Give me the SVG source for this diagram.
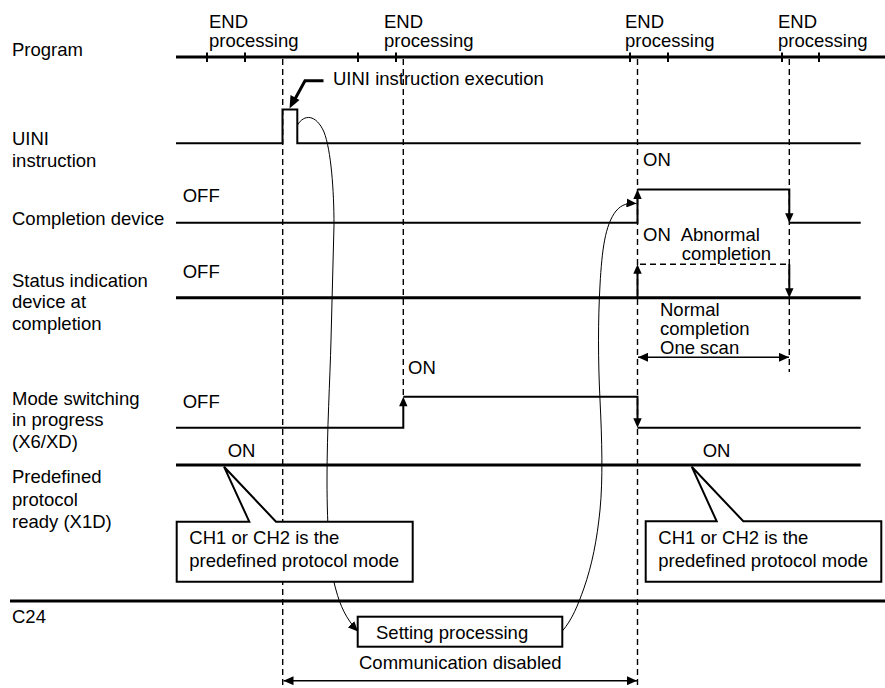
<svg xmlns="http://www.w3.org/2000/svg" width="885" height="688" viewBox="0 0 885 688">
<defs>
<style>
text{font-family:"Liberation Sans",Arial,sans-serif;font-size:18.5px;fill:#000}
.thick{stroke:#000;stroke-width:3;fill:none}
.sig{stroke:#000;stroke-width:2;fill:none}
.tick{stroke:#000;stroke-width:2}
.dash{stroke:#000;stroke-width:1.4;stroke-dasharray:6,4;fill:none}
.curve{stroke:#000;stroke-width:1;fill:none}
.box{stroke:#000;stroke-width:2;fill:#fff}
.ah{fill:#000;stroke:none}
</style>
<marker id="arr" viewBox="0 0 10 9" refX="10" refY="4.5" markerWidth="10" markerHeight="9" markerUnits="userSpaceOnUse" orient="auto">
<path d="M0,0 L10,4.5 L0,9 z" fill="#000"/>
</marker>
<marker id="arrS" viewBox="0 0 10 9" refX="0" refY="4.5" markerWidth="10" markerHeight="9" markerUnits="userSpaceOnUse" orient="auto">
<path d="M10,0 L0,4.5 L10,9 z" fill="#000"/>
</marker>
<marker id="arrB" viewBox="0 0 12 10" refX="12" refY="5" markerWidth="12" markerHeight="10" markerUnits="userSpaceOnUse" orient="auto">
<path d="M0,0 L12,5 L0,10 z" fill="#000"/>
</marker>
</defs>
<rect width="885" height="688" fill="#fff"/>

<g id="guides">
<line class="dash" x1="282.7" y1="59" x2="282.7" y2="688"/>
<line class="dash" x1="403.3" y1="59" x2="403.3" y2="397"/>
<line class="dash" x1="637.5" y1="59" x2="637.5" y2="688"/>
<line class="dash" x1="789.3" y1="59" x2="789.3" y2="372"/>
</g>

<g id="program">
<line class="thick" x1="176" y1="57" x2="885" y2="57"/>
<g class="tick">
<line x1="207" y1="52.5" x2="207" y2="62"/>
<line x1="245" y1="52.5" x2="245" y2="62"/>
<line x1="358" y1="52.5" x2="358" y2="62"/>
<line x1="396" y1="52.5" x2="396" y2="62"/>
<line x1="630" y1="52.5" x2="630" y2="62"/>
<line x1="668" y1="52.5" x2="668" y2="62"/>
<line x1="782" y1="52.5" x2="782" y2="62"/>
<line x1="819" y1="52.5" x2="819" y2="62"/>
</g>
<text x="12" y="56">Program</text>
<text x="209" y="28">END</text><text x="209" y="47">processing</text>
<text x="384" y="28">END</text><text x="384" y="47">processing</text>
<text x="625" y="28">END</text><text x="625" y="47">processing</text>
<text x="778" y="28">END</text><text x="778" y="47">processing</text>
</g>

<g id="uini">
<polyline class="sig" points="176,143.3 282.5,143.3 282.5,109.5 297.3,109.5 297.3,143.3 860.7,143.3"/>
<text x="12" y="145">UINI</text>
<text x="12" y="166.5">instruction</text>
<polyline class="thick" points="323.5,80.7 305,80.7 295,99" />
<polygon class="ah" points="289.5,108.5 290.5,95 299.5,100"/>
<text x="333" y="85">UINI instruction execution</text>
</g>

<g id="completion-device">
<polyline class="sig" points="176,222.7 637.5,222.7 637.5,198 "/>
<polyline class="sig" points="637.5,189.5 789.3,189.5 789.3,214"/>
<line class="sig" x1="789.3" y1="222.7" x2="860.7" y2="222.7"/>
<polygon class="ah" points="637.5,189.5 633.3,199 641.7,199"/>
<polygon class="ah" points="789.3,222.7 785.1,213.2 793.5,213.2"/>
<text x="12" y="225">Completion device</text>
<text x="182.7" y="201.5">OFF</text>
<text x="643" y="166">ON</text>
</g>

<g id="status-device">
<line class="thick" x1="176" y1="297.7" x2="860.7" y2="297.7"/>
<line class="sig" x1="637.5" y1="297.7" x2="637.5" y2="272"/>
<polygon class="ah" points="637.5,264.3 633.3,273.8 641.7,273.8"/>
<line class="dash" x1="640" y1="264.3" x2="789.3" y2="264.3"/>
<line class="sig" x1="789.3" y1="264.3" x2="789.3" y2="290"/>
<polygon class="ah" points="789.3,297.7 785.1,288.2 793.5,288.2"/>
<text x="12" y="286.7">Status indication</text>
<text x="12" y="308.3">device at</text>
<text x="12" y="330">completion</text>
<text x="182.7" y="278.3">OFF</text>
<text x="643" y="240.7">ON</text>
<text x="680.7" y="240.7">Abnormal</text>
<text x="681.7" y="260">completion</text>
<text x="660" y="315.7">Normal</text>
<text x="660" y="335">completion</text>
<text x="660" y="354.3">One scan</text>
<line stroke="#000" stroke-width="1.5" x1="638" y1="357.3" x2="789" y2="357.3" marker-start="url(#arrS)" marker-end="url(#arr)"/>
</g>

<g id="mode-switching">
<polyline class="sig" points="176,427.7 403.3,427.7 403.3,405"/>
<polyline class="sig" points="403.3,396.7 637.5,396.7 637.5,420"/>
<line class="sig" x1="637.5" y1="427.7" x2="860.7" y2="427.7"/>
<polygon class="ah" points="403.3,396.7 399.1,406.2 407.5,406.2"/>
<polygon class="ah" points="637.5,427.7 633.3,418.2 641.7,418.2"/>
<text x="12" y="405">Mode switching</text>
<text x="12" y="426.3">in progress</text>
<text x="12" y="448.3">(X6/XD)</text>
<text x="182.7" y="408">OFF</text>
<text x="408" y="374">ON</text>
</g>

<g id="connectors">
<path class="curve" d="M297.5,125 C304,114 316,114 324,132 C331,150 334,190 334,225 L331,340 C330,380 327,430 327,480 C327,530 330,570 336,590 C340,605 346,619 358,631.5" marker-end="url(#arr)"/>
<path class="curve" d="M562.3,631 C572,620 578,605 584,588 C592,565 597,540 600,510 C603,480 602,440 600,400 C598,360 598,320 600,285 C602,250 605,225 616,211 C622,204 628,203 636.5,203.5" marker-end="url(#arr)"/>
</g>

<g id="predefined-ready">
<line class="thick" x1="176" y1="465" x2="860.7" y2="465"/>
<text x="12" y="483.3">Predefined</text>
<text x="12" y="505.7">protocol</text>
<text x="12" y="528.3">ready (X1D)</text>
<text x="227.7" y="457">ON</text>
<text x="702.7" y="457">ON</text>
</g>

<g id="callout-left">
<path class="box" d="M176.7,521.7 L249.3,521.7 L224,466.7 L276,521.7 L412.7,521.7 L412.7,581.7 L176.7,581.7 Z"/>
<text x="189.3" y="544">CH1 or CH2 is the</text>
<text x="189.3" y="566.7">predefined protocol mode</text>
</g>

<g id="callout-right">
<path class="box" d="M645.7,521.3 L716.7,521.3 L691.7,466.7 L743.3,521.3 L881.3,521.3 L881.3,581.7 L645.7,581.7 Z"/>
<text x="658.3" y="544">CH1 or CH2 is the</text>
<text x="658.3" y="566.7">predefined protocol mode</text>
</g>

<g id="c24">
<line class="thick" x1="10" y1="601" x2="885" y2="601"/>
<text x="12" y="623">C24</text>
</g>

<g id="setting-processing">
<rect class="box" x="357.7" y="616.7" width="204.6" height="30" stroke-width="1.8"/>
<text x="376" y="639">Setting processing</text>
</g>

<g id="comm-disabled">
<text x="359" y="669">Communication disabled</text>
<line stroke="#000" stroke-width="1.5" x1="283.5" y1="680.7" x2="637" y2="680.7" marker-start="url(#arrS)" marker-end="url(#arr)"/>
</g>
</svg>
